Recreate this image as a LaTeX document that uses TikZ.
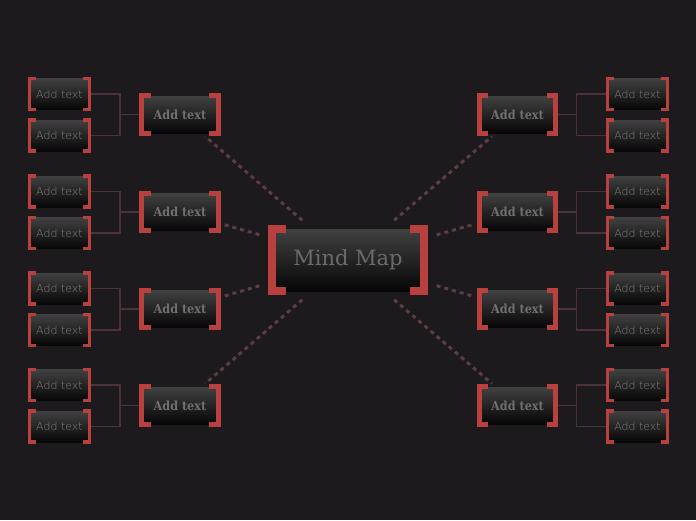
\documentclass[tikz,border=0pt]{standalone}
\usepackage{fontspec}
\usepackage{tikz}
\newfontfamily\hubfont{DejaVu Serif}
\newfontfamily\topicfont{DejaVu Serif Condensed}
\newfontfamily\subfont{DejaVu Sans ExtraLight}
\definecolor{mapbg}{HTML}{1C1A1D}
\definecolor{mapred}{HTML}{B8413F}
\definecolor{maplink}{HTML}{4B3337}
\definecolor{mapdash}{HTML}{5C3D41}
\definecolor{boxtop}{HTML}{414141}
\definecolor{boxbot}{HTML}{060606}
% red corner brackets round a node: name, stroke, tab
\newcommand{\brackpair}[3]{%
  \draw[mapred,line width=#2,line join=miter]
    ([xshift=#3]#1.north west) -- (#1.north west) -- (#1.south west) -- ([xshift=#3]#1.south west)
    ([xshift=-#3]#1.north east) -- (#1.north east) -- (#1.south east) -- ([xshift=-#3]#1.south east);}

\begin{document}
\begin{tikzpicture}[x=1pt,y=-1pt,
  card/.style={inner sep=0pt,top color=boxtop,bottom color=boxbot},
  hub/.style={card,minimum width=152pt,minimum height=62pt,text=black!58,
    font=\hubfont\fontsize{21}{23}\selectfont},
  topic/.style={card,minimum width=76pt,minimum height=37pt,text=black!56,
    font=\topicfont\bfseries\fontsize{12.5}{14}\selectfont},
  sub/.style={card,minimum width=60pt,minimum height=31pt,text=black!50,
    font=\subfont\fontsize{11}{13}\selectfont},
  link/.style={maplink,line width=1.5pt},
  dsh/.style={mapdash,line width=3pt,dash pattern=on 4pt off 4pt,
    shorten <=13pt,shorten >=5pt}]
\fill[mapbg] (0,0) rectangle (696,520);
% central topic
\node[hub] (hub) at (348,260) {\raisebox{-1pt}{Mind Map}};
% main topics and their subtopics
\foreach \y/\n in {114.5/1,212/2,309/3,405.5/4}{
  \node[topic] (tl\n) at (180,\y) {Add text};
  \node[topic] (tr\n) at (517.5,\y) {Add text};
  \node[sub] (sla\n) at (59.5,\y-20.5) {Add text};
  \node[sub] (slb\n) at (59.5,\y+21) {Add text};
  \node[sub] (sra\n) at (637.5,\y-20.5) {Add text};
  \node[sub] (srb\n) at (637.5,\y+21) {Add text};
}
% connectors
\foreach \n in {1,...,4}{
  \draw[dsh] (hub) -- (tl\n);
  \draw[dsh] (hub) -- (tr\n);
  \draw[link] (tl\n.west) -- ++(-22,0) coordinate (el\n) |- (sla\n.east);
  \draw[link] (el\n) |- (slb\n.east);
  \draw[link] (tr\n.east) -- ++(21,0) coordinate (er\n) |- (sra\n.west);
  \draw[link] (er\n) |- (srb\n.west);
}
% brackets on top
\brackpair{hub}{8pt}{14pt}
\foreach \n in {1,...,4}{
  \brackpair{tl\n}{5pt}{9pt}
  \brackpair{tr\n}{5pt}{9pt}
  \brackpair{sla\n}{3.5pt}{6.5pt}
  \brackpair{slb\n}{3.5pt}{6.5pt}
  \brackpair{sra\n}{3.5pt}{6.5pt}
  \brackpair{srb\n}{3.5pt}{6.5pt}
}
\end{tikzpicture}
\end{document}
